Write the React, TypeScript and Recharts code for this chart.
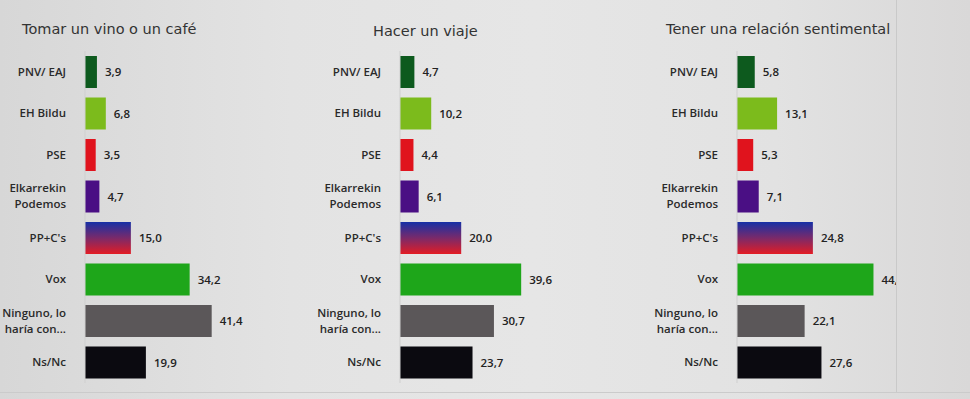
import React from 'react'
import { BarChart, Bar, XAxis, YAxis, LabelList, Cell } from 'recharts'

const categories = ['PNV/ EAJ', 'EH Bildu', 'PSE', 'Elkarrekin Podemos', "PP+C's", 'Vox', 'Ninguno, lo haría con...', 'Ns/Nc']
const tickLines: Record<string, string[]> = {
  'Elkarrekin Podemos': ['Elkarrekin', 'Podemos'],
  'Ninguno, lo haría con...': ['Ninguno, lo', 'haría con...'],
}
const vinoValues = [3.9, 6.8, 3.5, 4.7, 15.0, 34.2, 41.4, 19.9]
const viajeValues = [4.7, 10.2, 4.4, 6.1, 20.0, 39.6, 30.7, 23.7]
const relacionValues = [5.8, 13.1, 5.3, 7.1, 24.8, 44.6, 22.1, 27.6]
const barColors = ['#0d5a1e', '#7cbb1c', '#e0131d', '#4a0f84', 'url(#ppcs)', '#1ea61a', '#5b5759', '#0b0a10']

const FONT = "'DejaVu Sans', sans-serif"
const LABEL_FONT = "'Open Sans', sans-serif"

const CategoryTick = (props: any) => {
  const { x, y, payload } = props
  const lines = tickLines[payload.value] || [payload.value]
  const start = -((lines.length - 1) * 16) / 2
  return (
    <text x={x} y={y} textAnchor="end" fontFamily={LABEL_FONT} fontSize={11.5} fontWeight={600} fill="#2a2a2a">
      {lines.map((l, i) => (
        <tspan key={i} x={x} dy={i === 0 ? start + 4 : 16}>{l}</tspan>
      ))}
    </text>
  )
}

const fmt = (v: any) => Number(v).toFixed(1).replace('.', ',')

// axis at 100px inside each chart, 50 units over ~152px
const Panel: React.FC<{ values: number[]; id: string }> = ({ values, id }) => {
  const data = categories.map((name, i) => ({ name, value: values[i] }))
  return (
    <BarChart layout="vertical" width={315} height={399} data={data}
      margin={{ top: 51, right: 62, bottom: 16, left: 0 }} barSize={32}>
      <defs>
        <linearGradient id={'ppcs'} x1="0" y1="0" x2="0" y2="1">
          <stop offset="0%" stopColor="#1630a6" />
          <stop offset="50%" stopColor="#7a2a6a" />
          <stop offset="100%" stopColor="#e31c24" />
        </linearGradient>
      </defs>
      <XAxis type="number" domain={[0, 50]} hide />
      <YAxis type="category" dataKey="name" width={100} tickLine={false} axisLine={{ stroke: '#cfcfcf' }}
        tick={<CategoryTick />} tickMargin={13} interval={0} />
      <Bar dataKey="value" isAnimationActive={false}>
        {data.map((d, i) => (
          <Cell key={id + i} fill={barColors[i]} />
        ))}
        <LabelList dataKey="value" position="right" offset={8} formatter={fmt}
          style={{ fontFamily: LABEL_FONT, fontSize: 11.5, fontWeight: 600, fill: '#222' }} />
      </Bar>
    </BarChart>
  )
}

const titleStyle: React.CSSProperties = {
  position: 'absolute', fontFamily: FONT, fontSize: 14.5, color: '#333', whiteSpace: 'nowrap',
}

export default function App() {
  return (
    <div style={{
      position: 'absolute', left: 0, top: 0, width: 970, height: 399, overflow: 'hidden',
      background: 'linear-gradient(90deg, #d7d7d7 0%, #e3e3e3 30%, #e6e6e6 55%, #e2e2e2 80%, #d9d8d8 100%)',
    }}>
      <div style={{ ...titleStyle, left: 22, top: 21 }}>Tomar un vino o un café</div>
      <div style={{ ...titleStyle, left: 373, top: 23 }}>Hacer un viaje</div>
      <div style={{ ...titleStyle, left: 666, top: 21 }}>Tener una relación sentimental</div>
      <div style={{ position: 'absolute', left: -15, top: 0 }}>
        <Panel values={vinoValues} id="a" />
      </div>
      <div style={{ position: 'absolute', left: 300, top: 0 }}>
        <Panel values={viajeValues} id="b" />
      </div>
      <div style={{ position: 'absolute', left: 637, top: 0, width: 259, overflow: 'hidden' }}>
        <Panel values={relacionValues} id="c" />
      </div>
      <div style={{ position: 'absolute', left: 896, top: 0, width: 1, height: 392, background: '#c9c9c9' }} />
      <div style={{ position: 'absolute', left: 0, top: 392, width: 970, height: 1, background: '#cbcbcb' }} />
    </div>
  )
}
